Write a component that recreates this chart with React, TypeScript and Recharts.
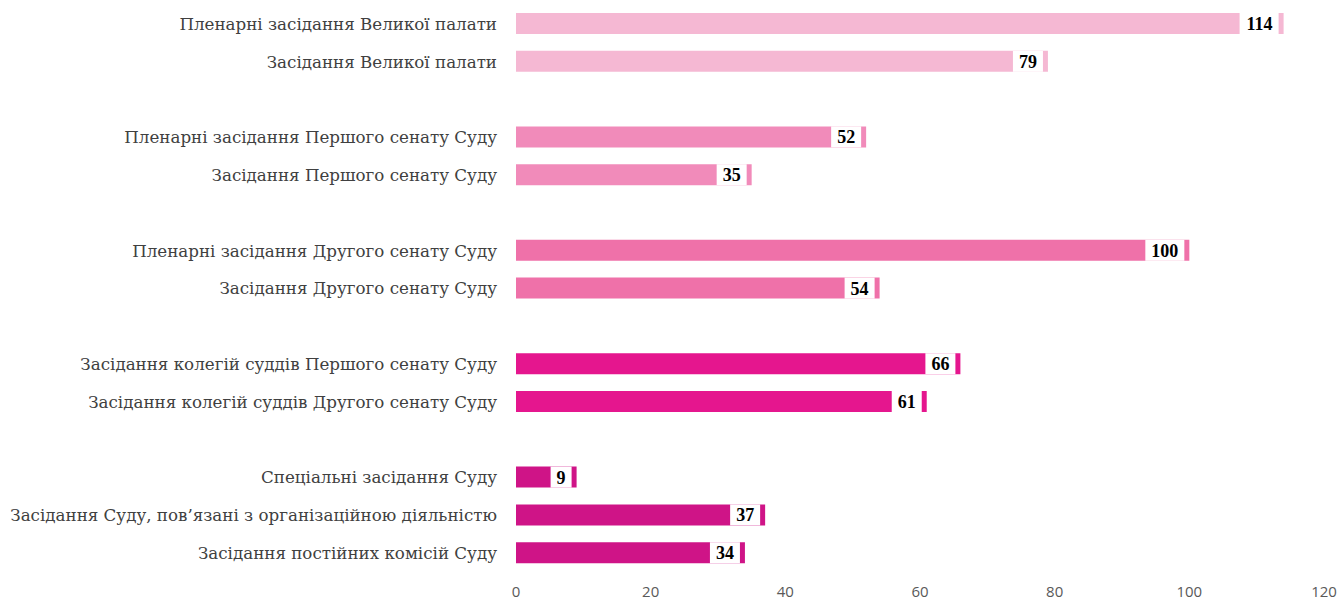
import React from 'react';
import { BarChart, Bar, XAxis, YAxis, Cell, LabelList } from 'recharts';

const categories: string[] = [
  'Пленарні засідання Великої палати',
  'Засідання Великої палати',
  '',
  'Пленарні засідання Першого сенату Суду',
  'Засідання Першого сенату Суду',
  '',
  'Пленарні засідання Другого сенату Суду',
  'Засідання Другого сенату Суду',
  '',
  'Засідання колегій суддів Першого сенату Суду',
  'Засідання колегій суддів Другого сенату Суду',
  '',
  'Спеціальні засідання Суду',
  'Засідання Суду, пов’язані з організаційною діяльністю',
  'Засідання постійних комісій Суду',
];

const values: (number | null)[] = [114, 79, null, 52, 35, null, 100, 54, null, 66, 61, null, 9, 37, 34];

const colors: string[] = [
  '#F5B8D3', '#F5B8D3', '#FFFFFF',
  '#F18BBA', '#F18BBA', '#FFFFFF',
  '#EF71A9', '#EF71A9', '#FFFFFF',
  '#E5168E', '#E5168E', '#FFFFFF',
  '#CF1487', '#CF1487', '#CF1487',
];

const xTicks: number[] = [0, 20, 40, 60, 80, 100, 120];

const data = categories.map((name, i) => ({ idx: i, name, value: values[i] }));

const ValueLabel = (props: any) => {
  const { x, y, width, height, value } = props;
  if (value === null || value === undefined) return null;
  const text = String(value);
  const fs = 18;
  const tw = text.length * fs * 0.5;
  const right = Number(x) + Number(width) - 5;
  const boxW = tw + 12;
  return (
    <g>
      <rect x={right - boxW} y={Number(y)} width={boxW} height={Number(height)} fill="#FFFFFF" />
      <text
        x={right - 6}
        y={Number(y) + Number(height) / 2}
        dy="0.36em"
        textAnchor="end"
        fontFamily="'Liberation Serif', 'Times New Roman', serif"
        fontWeight="bold"
        fontSize={fs}
        fill="#000000"
      >
        {text}
      </text>
    </g>
  );
};

export default function App() {
  return (
    <div style={{ position: 'absolute', left: 0, top: 0, background: '#fff' }}>
      <BarChart
        width={1337}
        height={603}
        data={data}
        layout="vertical"
        margin={{ top: 5, right: 13, bottom: 0, left: 0 }}
      >
        <XAxis
          type="number"
          domain={[0, 120]}
          ticks={xTicks}
          axisLine={false}
          tickLine={false}
          tickSize={0}
          tickMargin={14}
          height={31}
          interval={0}
          tick={{ fill: '#595959', fontSize: 15, fontFamily: "'Open Sans', sans-serif" }}
        />
        <YAxis
          type="category"
          dataKey="idx"
          width={516}
          axisLine={false}
          tickLine={false}
          tickSize={0}
          tickMargin={19}
          interval={0}
          tickFormatter={(i: number) => categories[i]}
          tick={{ fill: '#404040', fontSize: 16.7, fontFamily: "'DejaVu Serif', serif" }}
        />
        <Bar dataKey="value" barSize={21} isAnimationActive={false}>
          {data.map((d, i) => (
            <Cell key={i} fill={colors[i]} />
          ))}
          <LabelList dataKey="value" content={ValueLabel} />
        </Bar>
      </BarChart>
    </div>
  );
}
